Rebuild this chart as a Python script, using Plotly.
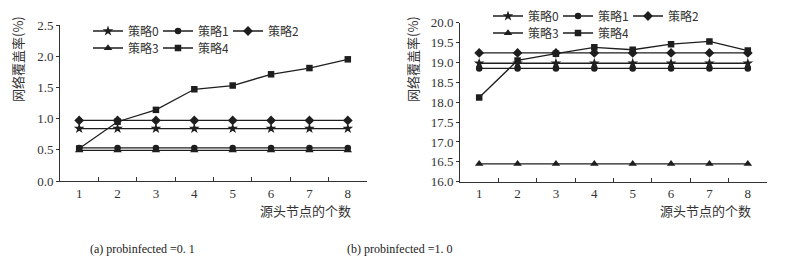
import plotly.graph_objects as go

categories = ["1", "2", "3", "4", "5", "6", "7", "8"]
series_names = ["策略0", "策略1", "策略2", "策略3", "策略4"]

# (a) probinfected = 0.1
a_s0 = [0.84] * 8
a_s1 = [0.53] * 8
a_s2 = [0.97] * 8
a_s3 = [0.49] * 8
a_s4 = [0.52, 0.95, 1.14, 1.47, 1.53, 1.71, 1.81, 1.95]

# (b) probinfected = 1.0
b_s0 = [18.98] * 8
b_s1 = [18.85] * 8
b_s2 = [19.24] * 8
b_s3 = [16.45] * 8
b_s4 = [18.12, 19.05, 19.22, 19.38, 19.32, 19.46, 19.53, 19.30]

a_ticks = [0.0, 0.5, 1.0, 1.5, 2.0, 2.5]
b_ticks = [16.0, 16.5, 17.0, 17.5, 18.0, 18.5, 19.0, 19.5, 20.0]

symbols = ["star", "circle", "diamond", "triangle-up", "square"]
sizes = [8, 6.5, 7.5, 7.5, 6.5]
INK = "#1e1e1e"
W, H = 789, 263

fig = go.Figure()

a_data = [a_s0, a_s1, a_s2, a_s3, a_s4]
b_data = [b_s0, b_s1, b_s2, b_s3, b_s4]
row_legend_a = ["legend", "legend", "legend", "legend2", "legend2"]
row_legend_b = ["legend3", "legend3", "legend3", "legend4", "legend4"]

for i, name in enumerate(series_names):
    fig.add_trace(go.Scatter(
        x=categories, y=a_data[i], name=name, mode="lines+markers",
        line=dict(color=INK, width=1.3),
        marker=dict(symbol=symbols[i], size=sizes[i], color=INK),
        xaxis="x", yaxis="y", legend=row_legend_a[i]))
for i, name in enumerate(series_names):
    fig.add_trace(go.Scatter(
        x=categories, y=b_data[i], name=name, mode="lines+markers",
        line=dict(color=INK, width=1.3),
        marker=dict(symbol=symbols[i], size=sizes[i], color=INK),
        xaxis="x2", yaxis="y2", legend=row_legend_b[i]))

tickfont = dict(family="Liberation Serif", size=13, color="#333")
cjk = "Noto Sans CJK SC"

def xaxis(domain, anchor):
    return dict(domain=domain, anchor=anchor, type="category",
                range=[-0.5, 7.5], tickson="boundaries", ticks="inside",
                ticklen=4, tickcolor="#333", showline=True, linecolor="#333",
                linewidth=1, showgrid=False, zeroline=False, tickfont=tickfont,
                automargin=False)

def yaxis(domain, anchor, rng, tv):
    return dict(domain=domain, anchor=anchor, range=rng, tickvals=tv,
                ticktext=[f"{v:.1f}" for v in tv], ticks="outside", ticklen=3,
                tickcolor="#333", showline=True, linecolor="#333", linewidth=1,
                showgrid=False, zeroline=False, tickfont=tickfont,
                automargin=False)

def legend(x, y):
    return dict(orientation="h", x=x, y=y, xanchor="left", yanchor="middle",
                bgcolor="rgba(0,0,0,0)", entrywidth=25, entrywidthmode="pixels",
                font=dict(family=cjk, size=12, color="#333"),
                itemwidth=30, tracegroupgap=0)

fig.update_layout(
    width=W, height=H,
    margin=dict(l=0, r=0, t=0, b=0, pad=0, autoexpand=False),
    paper_bgcolor="white", plot_bgcolor="white",
    xaxis=xaxis([60 / W, 367 / W], "y"),
    yaxis=yaxis([1 - 181 / H, 1 - 25 / H], "x", [0, 2.5], a_ticks),
    xaxis2=xaxis([460 / W, 767 / W], "y2"),
    yaxis2=yaxis([1 - 181.7 / H, 1 - 22.7 / H], "x2", [16, 20], b_ticks),
    legend=legend(88 / W, 1 - 31 / H),
    legend2=legend(88 / W, 1 - 48 / H),
    legend3=legend(488 / W, 1 - 16 / H),
    legend4=legend(488 / W, 1 - 33 / H),
    showlegend=True,
)

ann_font = dict(family=cjk, size=13, color="#333")
annotations = [
    dict(text="网络覆盖率(%)", x=17 / W, y=1 - 59 / H, textangle=-90, font=ann_font),
    dict(text="网络覆盖率(%)", x=412 / W, y=1 - 59 / H, textangle=-90, font=ann_font),
    dict(text="源头节点的个数", x=305 / W, y=1 - 210 / H, font=ann_font),
    dict(text="源头节点的个数", x=705 / W, y=1 - 210 / H, font=ann_font),
    dict(text="(a) probinfected =0. 1", x=142 / W, y=1 - 249 / H,
         font=dict(family="Liberation Serif", size=12, color="#222")),
    dict(text="(b) probinfected =1. 0", x=399 / W, y=1 - 249 / H,
         font=dict(family="Liberation Serif", size=12, color="#222")),
]
for a in annotations:
    a.update(xref="paper", yref="paper", showarrow=False, xanchor="center", yanchor="middle")
fig.update_layout(annotations=annotations)

fig.write_html(
    "out.html",
    config={"displayModeBar": False},
    post_script="document.body.style.margin='0';document.body.style.overflow='hidden';",
)
